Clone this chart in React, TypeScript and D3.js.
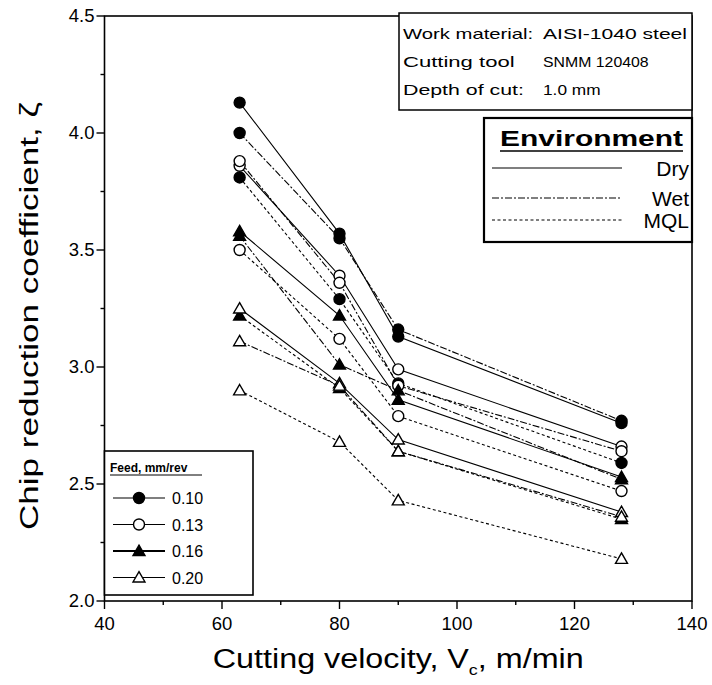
import React from "react";
import * as d3 from "d3";

// cutting velocity, m/min
const speeds = [63, 80, 90, 128];
const environments = ["Dry", "Wet", "MQL"];
const feeds = ["0.10", "0.13", "0.16", "0.20"];

// chip reduction coefficient per feed / environment
const dry010 = [4.13, 3.57, 3.13, 2.76];
const wet010 = [4.0, 3.55, 3.16, 2.77];
const mql010 = [3.81, 3.29, 2.93, 2.59];
const dry013 = [3.86, 3.39, 2.99, 2.66];
const wet013 = [3.88, 3.36, 2.92, 2.64];
const mql013 = [3.5, 3.12, 2.79, 2.47];
const dry016 = [3.58, 3.22, 2.86, 2.53];
const wet016 = [3.56, 3.01, 2.9, 2.52];
const mql016 = [3.22, 2.91, 2.64, 2.35];
const dry020 = [3.25, 2.93, 2.69, 2.38];
const wet020 = [3.11, 2.92, 2.64, 2.36];
const mql020 = [2.9, 2.68, 2.43, 2.18];

const xTicks = [40, 60, 80, 100, 120, 140];
const yTicks = [2.0, 2.5, 3.0, 3.5, 4.0, 4.5];

const infoLabels = ["Work material:", "Cutting tool", "Depth of cut:"];
const infoValues = ["AISI-1040 steel", "SNMM 120408", "1.0 mm"];

const table = [
  [dry010, wet010, mql010],
  [dry013, wet013, mql013],
  [dry016, wet016, mql016],
  [dry020, wet020, mql020],
];

const dashFor: Record<string, string | undefined> = {
  Dry: undefined,
  Wet: "7,2,2,2",
  MQL: "3,2.5",
};

function Marker({ feed, cx, cy }: { feed: number; cx: number; cy: number }) {
  const tri = feed >= 2;
  const filled = feed === 0 || feed === 2;
  const path = d3
    .symbol()
    .type(tri ? d3.symbolTriangle : d3.symbolCircle)
    .size(tri ? 62 : 95)();
  return (
    <path
      d={path || ""}
      transform={`translate(${cx},${cy + (tri ? 1 : 0)})`}
      fill={filled ? "#000" : "#fff"}
      stroke="#000"
      strokeWidth={1.4}
    />
  );
}

export default function App() {
  const width = 712;
  const height = 685;
  const left = 104.5;
  const right = 692;
  const top = 16;
  const bottom = 601;

  const x = d3.scaleLinear().domain([40, 140]).range([left, right]);
  const y = d3.scaleLinear().domain([2, 4.5]).range([bottom, top]);

  const line = d3
    .line<number>()
    .x((_, i) => x(speeds[i]))
    .y((d) => y(d));

  const font = "'Liberation Sans', Arial, sans-serif";

  const series = table.flatMap((rows, fi) =>
    rows.map((vals, ei) => ({ feed: fi, env: environments[ei], vals }))
  );

  return (
    <svg
      width={width}
      height={height}
      style={{ position: "absolute", left: 0, top: 0 }}
      fontFamily={font}
    >
      <rect width={width} height={height} fill="#fff" />

      {/* series lines */}
      <g fill="none" stroke="#000" strokeWidth={1.1}>
        {series.map((s, i) => (
          <path key={i} d={line(s.vals) || ""} strokeDasharray={dashFor[s.env]} />
        ))}
      </g>
      {/* markers */}
      <g>
        {series.map((s, i) =>
          s.vals.map((v, j) => (
            <Marker key={`${i}-${j}`} feed={s.feed} cx={x(speeds[j])} cy={y(v)} />
          ))
        )}
      </g>

      {/* frame */}
      <rect
        x={left}
        y={top}
        width={right - left}
        height={bottom - top}
        fill="none"
        stroke="#000"
        strokeWidth={1.6}
      />

      {/* y axis ticks */}
      {d3.range(2, 4.51, 0.25).map((t) => {
        const major = Math.abs(t * 2 - Math.round(t * 2)) < 1e-6;
        return (
          <line
            key={t}
            x1={left - (major ? 8 : 4)}
            x2={left}
            y1={y(t)}
            y2={y(t)}
            stroke="#000"
            strokeWidth={1.4}
          />
        );
      })}
      {yTicks.map((t) => (
        <text key={t} x={left - 10} y={y(t) + 6} textAnchor="end" fontSize={18.5}>
          {t.toFixed(1)}
        </text>
      ))}

      {/* x axis ticks */}
      {d3.range(40, 141, 10).map((t) => (
        <line
          key={t}
          x1={x(t)}
          x2={x(t)}
          y1={bottom}
          y2={bottom + (t % 20 === 0 ? 8 : 4)}
          stroke="#000"
          strokeWidth={1.4}
        />
      ))}
      {xTicks.map((t) => (
        <text key={t} x={x(t)} y={bottom + 29} textAnchor="middle" fontSize={18.5}>
          {t}
        </text>
      ))}

      {/* axis titles */}
      <text
        x={(left + right) / 2}
        y={668}
        textAnchor="middle"
        fontSize={27}
        textLength={371}
        lengthAdjust="spacingAndGlyphs"
      >
        Cutting velocity, V<tspan fontSize={15} dy={7}>c</tspan>
        <tspan dy={-7}>, m/min</tspan>
      </text>
      <text
        transform={`translate(38,${316}) rotate(-90)`}
        textAnchor="middle"
        fontSize={26}
        textLength={428}
        lengthAdjust="spacingAndGlyphs"
      >
        Chip reduction coefficient, ζ
      </text>

      {/* info box */}
      <rect x={399} y={13} width={right - 399} height={97} fill="#fff" stroke="#000" strokeWidth={1.5} />
      {infoLabels.map((lab, i) => (
        <g key={lab} fontSize={14.5}>
          <text x={403} y={39 + i * 28} textLength={lab.length * 9.3} lengthAdjust="spacingAndGlyphs">
            {lab}
          </text>
          <text
            x={543}
            y={39 + i * 28}
            textLength={infoValues[i].length * 9.6}
            lengthAdjust="spacingAndGlyphs"
          >
            {infoValues[i]}
          </text>
        </g>
      ))}

      {/* environment legend */}
      <rect x={484} y={118} width={right - 484} height={124} fill="#fff" stroke="#000" strokeWidth={2.2} />
      <text x={500} y={146} fontSize={22} fontWeight="bold" textLength={183} lengthAdjust="spacingAndGlyphs">
        Environment
      </text>
      <line x1={500} x2={683} y1={151} y2={151} stroke="#000" strokeWidth={1.6} />
      {environments.map((env, i) => {
        const ly = [168, 198, 220][i];
        return (
          <g key={env}>
            <line
              x1={492}
              x2={622}
              y1={ly}
              y2={ly}
              stroke="#000"
              strokeWidth={1.2}
              strokeDasharray={dashFor[env]}
            />
            <text x={689} y={ly + 8} textAnchor="end" fontSize={21}>
              {env}
            </text>
          </g>
        );
      })}

      {/* feed legend */}
      <rect x={left} y={451} width={253 - left} height={595 - 451} fill="#fff" stroke="#000" strokeWidth={1.6} />
      <text x={110} y={472} fontSize={12} fontWeight="bold">
        Feed, mm/rev
      </text>
      <line x1={110} x2={202} y1={475} y2={475} stroke="#000" strokeWidth={1} />
      {feeds.map((f, i) => {
        const ly = 498 + i * 26.5;
        return (
          <g key={f}>
            <line x1={113} x2={165} y1={ly} y2={ly} stroke="#000" strokeWidth={i === 2 ? 2.2 : 1.2} />
            <Marker feed={i} cx={139} cy={ly} />
            <text x={172} y={ly + 6} fontSize={16}>
              {f}
            </text>
          </g>
        );
      })}
    </svg>
  );
}
